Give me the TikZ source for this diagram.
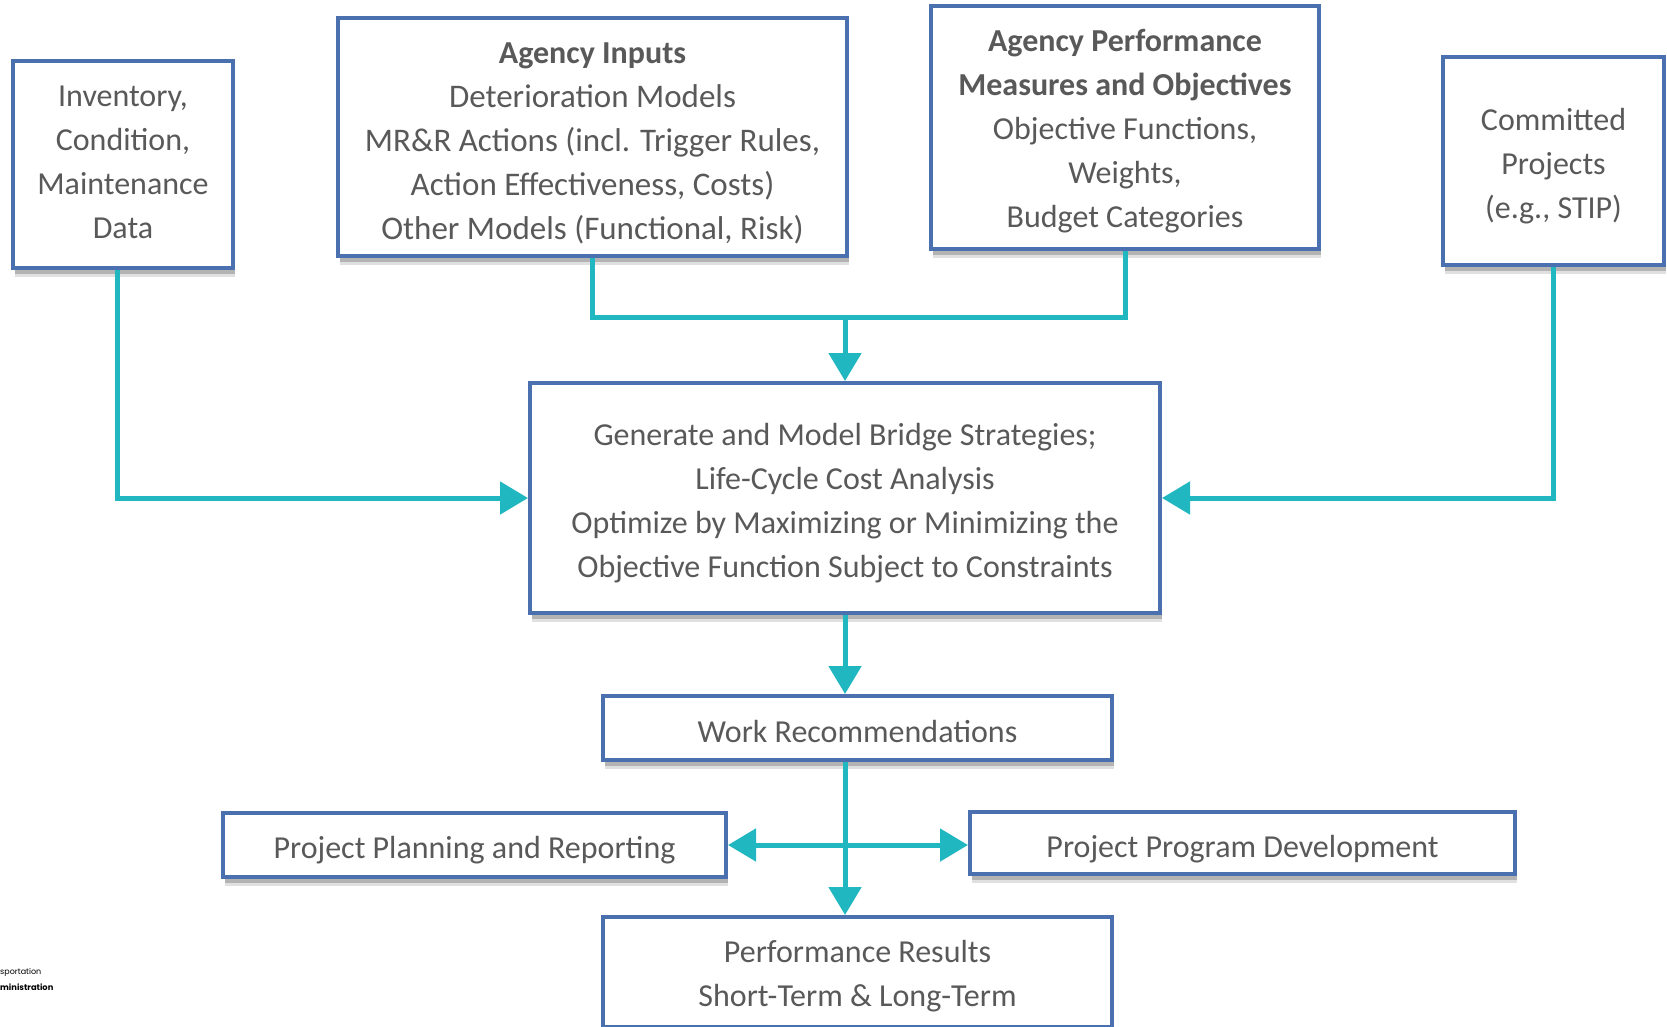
\documentclass[tikz,border=0pt]{standalone}
\usepackage{fontspec}
\setmainfont{Carlito}
\newfontfamily\logofont{Poppins}
\usetikzlibrary{arrows.meta,shadows}
\definecolor{tealc}{RGB}{32,183,192}
\definecolor{bord}{RGB}{74,112,176}
\definecolor{txt}{RGB}{89,89,89}
\begin{document}
\begin{tikzpicture}[x=1pt,y=-1pt,
  box/.style={draw=bord, line width=4pt, fill=white,
    drop shadow={shadow xshift=2pt, shadow yshift=-9pt, opacity=0.12, fill=black},
    drop shadow={shadow xshift=2pt, shadow yshift=-6pt, opacity=0.2, fill=black},
    inner sep=0pt},
  lbl/.style={align=center, text=txt, inner sep=0pt,
    font=\fontsize{32}{44}\selectfont},
  tline/.style={draw=tealc, line width=5pt, line join=miter},
  conn/.style={tline, -{Triangle[width=32pt,length=28pt]}},
  logo/.style={anchor=west, inner sep=0pt, text=black, font=\logofont\fontsize{8}{9}\selectfont}
]
\useasboundingbox (0,0) rectangle (1667,1026);

\node[box, minimum width=220pt, minimum height=207pt] (inv) at (123,164) {};
\node[box, minimum width=509pt, minimum height=238pt] (ai) at (592.5,137) {};
\node[box, minimum width=388pt, minimum height=243pt] (ap) at (1125,127.5) {};
\node[box, minimum width=221pt, minimum height=208pt] (cp) at (1553.5,161) {};
\node[box, minimum width=630pt, minimum height=230pt] (cen) at (845,498) {};
\node[box, minimum width=509pt, minimum height=64pt] (work) at (857.5,728) {};
\node[box, minimum width=503pt, minimum height=64pt] (plan) at (474.5,845) {};
\node[box, minimum width=545pt, minimum height=62pt] (prog) at (1242.5,843) {};
\node[box, minimum width=509pt, minimum height=110pt] (perf) at (857.5,972) {};

\node[lbl] (invt) at ([yshift=2pt]inv.center) {Inventory,\\Condition,\\Maintenance\\Data};
\node[lbl, font=\fontsize{33}{44}\selectfont] (ait) at ([yshift=-6pt]ai.center)
  {{\fontsize{32}{44}\selectfont\bfseries Agency Inputs}\\Deterioration Models\\MR\&R Actions (incl. Trigger Rules,\\Action Effectiveness, Costs)\\Other Models (Functional, Risk)};
\node[lbl] (apt) at ([yshift=-4pt]ap.center)
  {\textbf{Agency Performance}\\\textbf{Measures and Objectives}\\Objective Functions,\\Weights,\\Budget Categories};
\node[lbl] (cpt) at ([yshift=-5pt]cp.center) {Committed\\Projects\\(e.g., STIP)};
\node[lbl] (cent) at ([yshift=-5pt]cen.center)
  {Generate and Model Bridge Strategies;\\Life-Cycle Cost Analysis\\Optimize by Maximizing or Minimizing the\\Objective Function Subject to Constraints};
\node[lbl] (workt) at ([yshift=-3pt]work.center) {Work Recommendations};
\node[lbl] (plant) at ([yshift=-5pt]plan.center) {Project Planning and Reporting};
\node[lbl] (progt) at ([yshift=-6pt]prog.center) {Project Program Development};
\node[lbl] (perft) at ([yshift=-4pt]perf.center) {Performance Results\\Short-Term \& Long-Term};

\node[logo] (l1) at (0,972) {sportation};
\node[logo, font=\logofont\bfseries\fontsize{8.3}{9}\selectfont] (l2) at (0,987) {ministration};

\coordinate (j) at (845,317);
\coordinate (h) at (845,845);

\draw[conn] ([xshift=-6pt]inv.south) |- (cen.west);
\draw[tline] (ai.south) |- (j);
\draw[tline] (ap.south) |- (j);
\draw[conn] (j) -- (cen.north);
\draw[conn] (cp.south) |- (cen.east);
\draw[conn] (cen.south) -- (cen.south |- work.north);
\draw[conn] (cen.south |- work.south) -- (cen.south |- perf.north);
\draw[conn] (h) -- (h -| plan.east);
\draw[conn] (h) -- (h -| prog.west);
\end{tikzpicture}
\end{document}
